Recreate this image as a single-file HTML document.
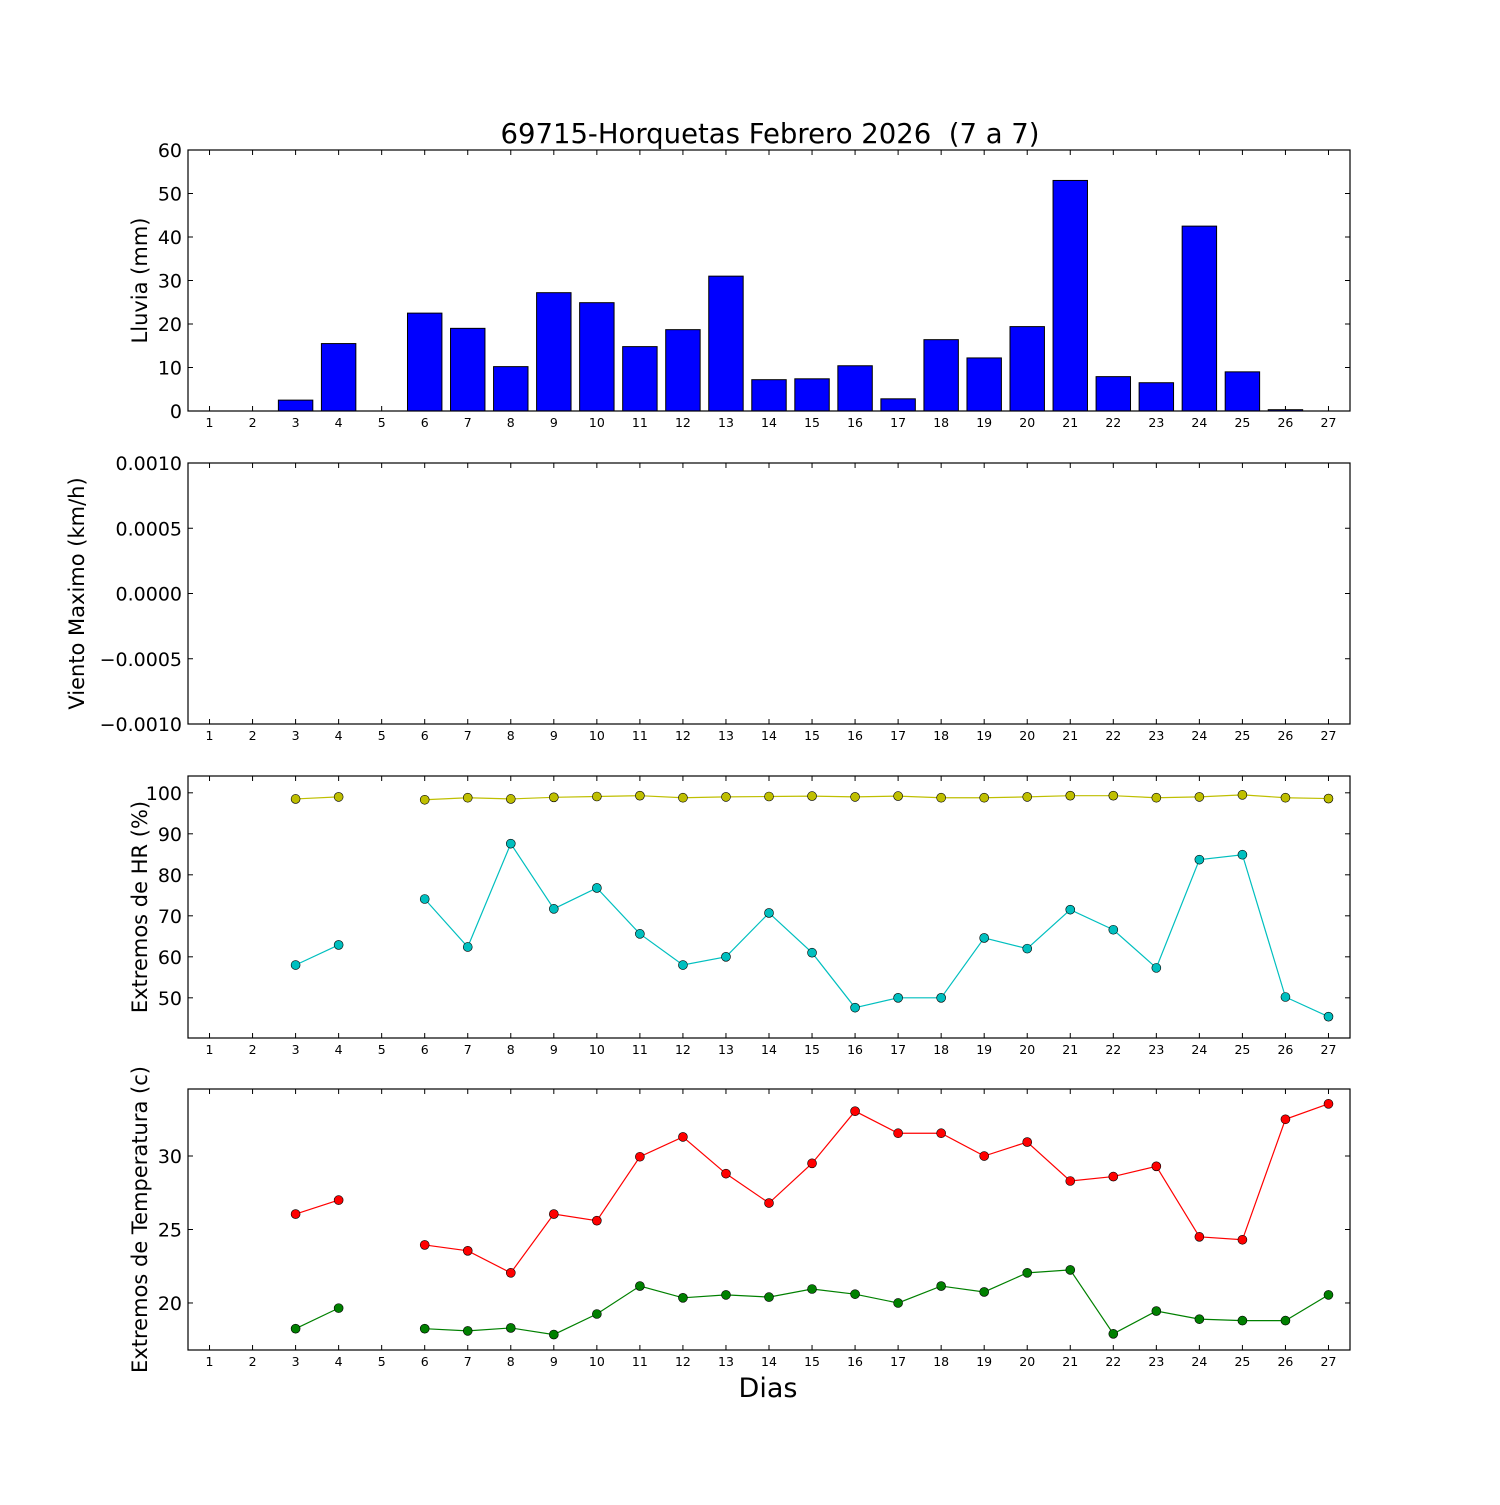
<!DOCTYPE html>
<html><head><meta charset="utf-8"><style>
html,body{margin:0;padding:0;background:#fff;}
svg text{font-family:"DejaVu Sans","Liberation Sans",sans-serif;}
</style></head><body>
<svg id="fig" width="1500" height="1500" xmlns="http://www.w3.org/2000/svg">
<rect width="1500" height="1500" fill="#fff"/>
<text x="770" y="143" font-size="27.5" text-anchor="middle" xml:space="preserve" style="white-space:pre">69715-Horquetas Febrero 2026  (7 a 7)</text>
<text x="768" y="1397" font-size="27" text-anchor="middle">Dias</text>
</svg>
<script>
const days = [1,2,3,4,5,6,7,8,9,10,11,12,13,14,15,16,17,18,19,20,21,22,23,24,25,26,27];
const rain = [0,0,2.5,15.5,0,22.5,19,10.2,27.2,24.9,14.8,18.7,31,7.2,7.4,10.4,2.8,16.4,12.2,19.4,53,7.9,6.5,42.5,9,0.3,0];
const hrMax = [null,null,98.5,99,null,98.3,98.8,98.5,98.9,99.1,99.3,98.8,99,99.1,99.2,99,99.2,98.8,98.8,99,99.3,99.3,98.8,99,99.5,98.8,98.6];
const hrMin = [null,null,58,62.9,null,74.1,62.4,87.6,71.7,76.8,65.6,58,60,70.7,61,47.6,50,50,64.6,62,71.5,66.6,57.3,83.7,84.9,50.2,45.4];
const tMax = [null,null,26.05,27,null,23.95,23.55,22.05,26.05,25.6,29.95,31.3,28.8,26.8,29.5,33.05,31.55,31.55,30,30.95,28.3,28.6,29.3,24.5,24.3,32.5,33.55];
const tMin = [null,null,18.25,19.65,null,18.25,18.1,18.3,17.85,19.25,21.15,20.35,20.55,20.4,20.95,20.6,20,21.15,20.75,22.05,22.25,17.9,19.45,18.9,18.8,18.8,20.55];
const rainTicks = [0,10,20,30,40,50,60];
const windTicks = [-0.001,-0.0005,0,0.0005,0.001];
const windTickLabels = ["\u22120.0010","\u22120.0005","0.0000","0.0005","0.0010"];
const hrTicks = [50,60,70,80,90,100];
const tTicks = [20,25,30];

const NS="http://www.w3.org/2000/svg";
const svg=document.getElementById('fig');
const X0=188,X1=1350;
function xs(d){return X0+(d-0.5)/27*(X1-X0);}
function mk(tag,attrs,parent){const e=document.createElementNS(NS,tag);for(const k in attrs)e.setAttribute(k,attrs[k]);(parent||svg).appendChild(e);return e;}

function panel(name,top,bot,ymin,ymax,ticks,labels,ylabel){
  const g=mk('g',{});
  
  
  const ys=v=>bot-(v-ymin)/(ymax-ymin)*(bot-top);
  ticks.forEach((t,i)=>{
    const y=ys(t);
    mk('line',{x1:X0,x2:X0+5,y1:y,y2:y,stroke:'#000'},g);
    mk('line',{x1:X1,x2:X1-5,y1:y,y2:y,stroke:'#000'},g);
    const tx=mk('text',{x:X0-6,y:y+7,'font-size':19,'text-anchor':'end'},g);
    
    
    tx.textContent=labels?labels[i]:String(t);
  });
  days.forEach(d=>{
    const x=xs(d);
    mk('line',{x1:x,x2:x,y1:bot,y2:bot-5,stroke:'#000'},g);
    mk('line',{x1:x,x2:x,y1:top,y2:top+5,stroke:'#000'},g);
    const tx=mk('text',{x:x,y:bot+16,'font-size':12.5,'text-anchor':'middle'},g);
    
    
    tx.textContent=String(d);
  });
  const yl=mk('text',{x:0,y:0,'font-size':21,'text-anchor':'middle',transform:`translate(${name==='wind-panel'?84:147},${(top+bot)/2}) rotate(-90)`},g);
  
  
  yl.textContent=ylabel;
  return {g,ys};
}
function frame(g,top,bot){mk('rect',{x:X0,y:top,width:X1-X0,height:bot-top,fill:'none',stroke:'#000','stroke-width':1.2},g);}

function series(g,ys,vals,color,name){
  let segs=[],cur=[];
  vals.forEach((v,i)=>{if(v==null){if(cur.length)segs.push(cur);cur=[];}else cur.push([xs(days[i]),ys(v)]);});
  if(cur.length)segs.push(cur);
  segs.forEach(s=>{const p=mk('polyline',{points:s.map(q=>q.join(',')).join(' '),fill:'none',stroke:color,'stroke-width':1.2},g);
    
    });
  vals.forEach((v,i)=>{if(v==null)return;
    const c=mk('circle',{cx:xs(days[i]),cy:ys(v),r:4.5,fill:color,stroke:'#000','stroke-width':0.6},g);
    
    });
}

let p=panel('rain-panel',150,411,0,60,rainTicks,null,'Lluvia (mm)');
const bw=0.8/27*(X1-X0);
rain.forEach((v,i)=>{
  const y=p.ys(v);
  const r=mk('rect',{x:xs(days[i])-bw/2,y:y,width:bw,height:411-y,fill:'#0000ff',stroke:'#000','stroke-width':1},p.g);
  
  
});
frame(p.g,150,411);
p=panel('wind-panel',463,724,-0.001,0.001,windTicks,windTickLabels,'Viento Maximo (km/h)');
frame(p.g,463,724);
p=panel('hr-panel',776,1038,40.2,104.1,hrTicks,null,'Extremos de HR (%)');
series(p.g,p.ys,hrMax,'#bfbf00','hr-max');
series(p.g,p.ys,hrMin,'#00bfbf','hr-min');
frame(p.g,776,1038);
p=panel('temp-panel',1089,1350,16.8,34.56,tTicks,null,'Extremos de Temperatura (c)');
series(p.g,p.ys,tMax,'#ff0000','temp-max');
series(p.g,p.ys,tMin,'#008000','temp-min');
frame(p.g,1089,1350);
</script>
</body></html>
